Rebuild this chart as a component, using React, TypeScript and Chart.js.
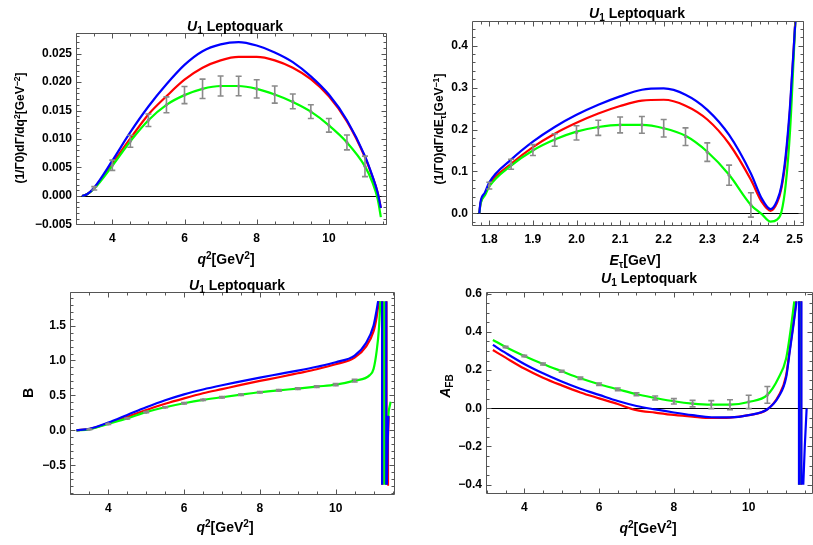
import React, { useEffect, useRef } from 'react';
import { Chart, registerables } from 'chart.js';
Chart.register(...registerables);

// ---------------- Panel 1: (1/Γ0) dΓ/dq² ----------------
const p1X = [3.16, 3.3, 3.5, 4, 4.5, 5, 5.5, 6, 6.5, 7, 7.5, 8, 8.5, 9, 9.5, 10, 10.5, 11, 11.2, 11.35, 11.44];
const p1Blue = [0, 0.0003, 0.0015, 0.0062, 0.0112, 0.0157, 0.0196, 0.0230, 0.0254, 0.0266, 0.0270, 0.0264, 0.0252, 0.0235, 0.0210, 0.0178, 0.0133, 0.0070, 0.0036, 0.0006, -0.0021];
const p1Red = [0, 0.0003, 0.0014, 0.0057, 0.0101, 0.0143, 0.0175, 0.0204, 0.0225, 0.0238, 0.0244, 0.0244, 0.0238, 0.0225, 0.0205, 0.0175, 0.0131, 0.0068, 0.0035, 0.0006, -0.0021];
const p1Green = [0, 0.0003, 0.0013, 0.0053, 0.0096, 0.0133, 0.0160, 0.0177, 0.0188, 0.0193, 0.0193, 0.0188, 0.0178, 0.0165, 0.0148, 0.0124, 0.0094, 0.0052, 0.0025, -0.0005, -0.0037];
const p1ErrX = [3.5, 4, 4.5, 5, 5.5, 6, 6.5, 7, 7.5, 8, 8.5, 9, 9.5, 10, 10.5, 11];
const p1ErrY = [0.00135, 0.0054, 0.0096, 0.0133, 0.0160, 0.0177, 0.0188, 0.0193, 0.0193, 0.0188, 0.0178, 0.0166, 0.0148, 0.0124, 0.0094, 0.0052];
const p1ErrE = [0.0003, 0.0009, 0.00105, 0.0011, 0.0014, 0.0015, 0.0017, 0.00175, 0.0017, 0.0016, 0.0015, 0.0013, 0.0012, 0.0012, 0.0013, 0.0018];
const p1XTicks = [4, 6, 8, 10];
const p1XLabels = ['4', '6', '8', '10'];
const p1YTicks = [-0.005, 0, 0.005, 0.01, 0.015, 0.02, 0.025];
const p1YLabels = ['\u22120.005', '0.000', '0.005', '0.010', '0.015', '0.020', '0.025'];

// ---------------- Panel 2: (1/Γ0) dΓ/dEτ ----------------
const p2X = [1.777, 1.78, 1.79, 1.8, 1.85, 1.9, 1.95, 2.0, 2.05, 2.1, 2.15, 2.2, 2.25, 2.3, 2.35, 2.4, 2.425, 2.445, 2.46, 2.47, 2.48, 2.49, 2.502];
const p2Blue = [0, 0.028, 0.05, 0.074, 0.128, 0.171, 0.206, 0.235, 0.259, 0.279, 0.295, 0.298, 0.283, 0.247, 0.187, 0.095, 0.035, 0.010, 0.03, 0.065, 0.14, 0.26, 0.46];
const p2Red = [0, 0.025, 0.046, 0.069, 0.118, 0.158, 0.19, 0.216, 0.238, 0.256, 0.269, 0.271, 0.257, 0.224, 0.166, 0.08, 0.027, 0.006, 0.025, 0.06, 0.13, 0.25, 0.46];
const p2Green = [0, 0.023, 0.043, 0.064, 0.114, 0.150, 0.176, 0.195, 0.206, 0.211, 0.211, 0.203, 0.185, 0.147, 0.092, 0.02, -0.002, -0.02, -0.015, 0.003, 0.07, 0.2, 0.46];
const p2ErrX = [1.8, 1.85, 1.9, 1.95, 2.0, 2.05, 2.1, 2.15, 2.2, 2.25, 2.3, 2.35, 2.4];
const p2ErrY = [0.066, 0.117, 0.151, 0.175, 0.192, 0.204, 0.211, 0.211, 0.203, 0.183, 0.146, 0.091, 0.02];
const p2ErrE = [0.008, 0.012, 0.013, 0.015, 0.017, 0.018, 0.019, 0.02, 0.021, 0.021, 0.022, 0.024, 0.029];
const p2XTicks = [1.8, 1.9, 2.0, 2.1, 2.2, 2.3, 2.4, 2.5];
const p2XLabels = ['1.8', '1.9', '2.0', '2.1', '2.2', '2.3', '2.4', '2.5'];
const p2YTicks = [0, 0.1, 0.2, 0.3, 0.4];
const p2YLabels = ['0.0', '0.1', '0.2', '0.3', '0.4'];

// ---------------- Panel 3: B ----------------
const p3BlueX = [3.16, 3.5, 4, 4.5, 5, 5.5, 6, 6.5, 7, 7.5, 8, 8.5, 9, 9.5, 10, 10.5, 10.8, 11.0, 11.08, 11.12];
const p3BlueY = [0, 0.02, 0.11, 0.22, 0.33, 0.43, 0.515, 0.585, 0.645, 0.70, 0.755, 0.805, 0.855, 0.91, 0.975, 1.07, 1.25, 1.5, 1.72, 1.85];
const p3RedX = [3.16, 3.5, 4, 4.5, 5, 5.5, 6, 6.5, 7, 7.5, 8, 8.5, 9, 9.5, 10, 10.5, 10.8, 11.0, 11.08, 11.14];
const p3RedY = [0, 0.018, 0.10, 0.195, 0.29, 0.38, 0.458, 0.53, 0.59, 0.65, 0.707, 0.76, 0.817, 0.875, 0.946, 1.04, 1.2, 1.42, 1.62, 1.85];
const p3GreenX = [3.16, 3.5, 4, 4.5, 5, 5.5, 6, 6.5, 7, 7.5, 8, 8.5, 9, 9.5, 10, 10.5, 10.9, 11.0, 11.08, 11.14, 11.18];
const p3GreenY = [0, 0.014, 0.091, 0.17, 0.26, 0.33, 0.387, 0.435, 0.473, 0.51, 0.545, 0.573, 0.597, 0.626, 0.654, 0.711, 0.79, 0.88, 1.13, 1.45, 1.85];
const p3BluePoleX = [11.225, 11.225, null, 11.335, 11.335, null, 11.35, 11.37, 11.39];
const p3BluePoleY = [1.85, -0.78, null, -0.78, 1.85, null, -0.78, -0.2, 0.21];
const p3RedPoleX = [11.23, 11.23, null, 11.34, 11.34, null, 11.36, 11.38, 11.4];
const p3RedPoleY = [1.85, -0.78, null, -0.78, 1.85, null, -0.78, -0.1, 0.2];
const p3GreenPoleX = [11.28, 11.28, null, 11.31, 11.33, 11.36, 11.4, 11.45];
const p3GreenPoleY = [1.85, -0.78, null, -0.78, -0.4, 0.0, 0.28, 0.41];
const p3ErrX = [3.5, 4, 4.5, 5, 5.5, 6, 6.5, 7, 7.5, 8, 8.5, 9, 9.5, 10, 10.5];
const p3ErrY = [0.014, 0.091, 0.17, 0.26, 0.33, 0.387, 0.435, 0.473, 0.51, 0.545, 0.573, 0.597, 0.626, 0.654, 0.711];
const p3ErrE = [0.005, 0.006, 0.007, 0.008, 0.008, 0.009, 0.009, 0.01, 0.01, 0.011, 0.012, 0.012, 0.013, 0.015, 0.02];
const p3XTicks = [4, 6, 8, 10];
const p3XLabels = ['4', '6', '8', '10'];
const p3YTicks = [-0.5, 0, 0.5, 1, 1.5];
const p3YLabels = ['\u22120.5', '0.0', '0.5', '1.0', '1.5'];

// ---------------- Panel 4: A_FB ----------------
const p4BlueX = [3.16, 3.5, 4, 4.5, 5, 5.5, 6, 6.5, 7, 7.5, 8, 8.5, 9, 9.5, 10, 10.5, 10.8, 11.0, 11.1, 11.2, 11.28];
const p4BlueY = [0.332, 0.29, 0.232, 0.183, 0.140, 0.102, 0.07, 0.038, 0.012, -0.006, -0.022, -0.036, -0.047, -0.048, -0.036, -0.005, 0.06, 0.16, 0.30, 0.44, 0.56];
const p4RedX = [3.16, 3.5, 4, 4.5, 5, 5.5, 6, 6.5, 7, 7.5, 8, 8.5, 9, 9.5, 10, 10.5, 10.8, 11.0, 11.1, 11.2, 11.27];
const p4RedY = [0.305, 0.265, 0.208, 0.16, 0.12, 0.083, 0.052, 0.022, -0.01, -0.023, -0.035, -0.044, -0.051, -0.049, -0.036, -0.006, 0.065, 0.17, 0.31, 0.45, 0.56];
const p4GreenX = [3.16, 3.5, 4, 4.5, 5, 5.5, 6, 6.5, 7, 7.5, 8, 8.5, 9, 9.5, 10, 10.5, 10.8, 11.0, 11.1, 11.22];
const p4GreenY = [0.358, 0.321, 0.274, 0.232, 0.194, 0.157, 0.126, 0.0995, 0.0733, 0.054, 0.0366, 0.0244, 0.019, 0.019, 0.033, 0.07, 0.16, 0.26, 0.38, 0.56];
const p4BluePoleX = [11.345, 11.345, null, 11.41, 11.41, null, 11.46, 11.5, 11.55];
const p4BluePoleY = [0.56, -0.4, null, -0.4, 0.56, null, -0.4, -0.2, 0.0];
const p4RedPoleX = [11.35, 11.35, null, 11.4, 11.4];
const p4RedPoleY = [0.56, -0.4, null, -0.4, 0.56];
const p4GreenPoleX = [11.36, 11.36];
const p4GreenPoleY = [0.56, -0.4];
const p4ErrX = [3.5, 4, 4.5, 5, 5.5, 6, 6.5, 7, 7.5, 8, 8.5, 9, 9.5, 10, 10.5];
const p4ErrY = [0.321, 0.274, 0.232, 0.194, 0.157, 0.126, 0.0995, 0.0733, 0.054, 0.0366, 0.0244, 0.019, 0.019, 0.033, 0.07];
const p4ErrE = [0.004, 0.004, 0.005, 0.005, 0.006, 0.006, 0.007, 0.008, 0.01, 0.014, 0.017, 0.021, 0.026, 0.035, 0.044];
const p4XTicks = [4, 6, 8, 10];
const p4XLabels = ['4', '6', '8', '10'];
const p4YTicks = [-0.4, -0.2, 0, 0.2, 0.4, 0.6];
const p4YLabels = ['\u22120.4', '\u22120.2', '0.0', '0.2', '0.4', '0.6'];

// ---------------- styling ----------------
const BLUE = '#0000ff';
const RED = '#ff0000';
const GREEN = '#00ff00';
const FONT = '"Liberation Sans", Arial, Helvetica, sans-serif';
const Y_W = 60;
const X_H = 30;
const PAD_T = 14;
const PAD_R = 10;

type Series = { x: (number | null)[]; y: (number | null)[]; color: string; smooth: boolean; order: number };
type PanelCfg = {
  frame: { l: number; r: number; t: number; b: number };
  xMin: number; xMax: number; yMin: number; yMax: number;
  xTicks: number[]; xLabels: string[]; yTicks: number[]; yLabels: string[];
  xMinor: number; yMinor: number;
  series: Series[];
  errX: number[]; errY: number[]; errE: number[];
  zeroLine: boolean;
};

const panels: PanelCfg[] = [
  {
    frame: { l: 76, r: 387, t: 33, b: 225 },
    xMin: 2.994, xMax: 11.61, yMin: -0.00509, yMax: 0.0286,
    xTicks: p1XTicks, xLabels: p1XLabels, yTicks: p1YTicks, yLabels: p1YLabels,
    xMinor: 0.5, yMinor: 0.001,
    series: [
      { x: p1X, y: p1Red, color: RED, smooth: true, order: 3 },
      { x: p1X, y: p1Green, color: GREEN, smooth: true, order: 2 },
      { x: p1X, y: p1Blue, color: BLUE, smooth: true, order: 1 },
    ],
    errX: p1ErrX, errY: p1ErrY, errE: p1ErrE, zeroLine: true,
  },
  {
    frame: { l: 472, r: 804, t: 21, b: 226 },
    xMin: 1.7603, xMax: 2.5218, yMin: -0.0303, yMax: 0.459,
    xTicks: p2XTicks, xLabels: p2XLabels, yTicks: p2YTicks, yLabels: p2YLabels,
    xMinor: 0.02, yMinor: 0.02,
    series: [
      { x: p2X, y: p2Red, color: RED, smooth: true, order: 3 },
      { x: p2X, y: p2Green, color: GREEN, smooth: true, order: 2 },
      { x: p2X, y: p2Blue, color: BLUE, smooth: true, order: 1 },
    ],
    errX: p2ErrX, errY: p2ErrY, errE: p2ErrE, zeroLine: true,
  },
  {
    frame: { l: 70, r: 395, t: 292, b: 495 },
    xMin: 2.9894, xMax: 11.565, yMin: -0.927, yMax: 1.981,
    xTicks: p3XTicks, xLabels: p3XLabels, yTicks: p3YTicks, yLabels: p3YLabels,
    xMinor: 0.5, yMinor: 0.1,
    series: [
      { x: p3RedX, y: p3RedY, color: RED, smooth: true, order: 3 },
      { x: p3RedPoleX, y: p3RedPoleY, color: RED, smooth: false, order: 3 },
      { x: p3GreenX, y: p3GreenY, color: GREEN, smooth: true, order: 2 },
      { x: p3GreenPoleX, y: p3GreenPoleY, color: GREEN, smooth: false, order: 2 },
      { x: p3BlueX, y: p3BlueY, color: BLUE, smooth: true, order: 1 },
      { x: p3BluePoleX, y: p3BluePoleY, color: BLUE, smooth: false, order: 1 },
    ],
    errX: p3ErrX, errY: p3ErrY, errE: p3ErrE, zeroLine: false,
  },
  {
    frame: { l: 486, r: 813, t: 292, b: 494 },
    xMin: 2.976, xMax: 11.72, yMin: -0.449, yMax: 0.609,
    xTicks: p4XTicks, xLabels: p4XLabels, yTicks: p4YTicks, yLabels: p4YLabels,
    xMinor: 0.5, yMinor: 0.05,
    series: [
      { x: p4RedX, y: p4RedY, color: RED, smooth: true, order: 3 },
      { x: p4RedPoleX, y: p4RedPoleY, color: RED, smooth: false, order: 3 },
      { x: p4GreenX, y: p4GreenY, color: GREEN, smooth: true, order: 2 },
      { x: p4GreenPoleX, y: p4GreenPoleY, color: GREEN, smooth: false, order: 2 },
      { x: p4BlueX, y: p4BlueY, color: BLUE, smooth: true, order: 1 },
      { x: p4BluePoleX, y: p4BluePoleY, color: BLUE, smooth: false, order: 1 },
    ],
    errX: p4ErrX, errY: p4ErrY, errE: p4ErrE, zeroLine: true,
  },
];

function minorValues(min: number, max: number, step: number): number[] {
  const out: number[] = [];
  const k0 = Math.ceil(min / step - 1e-9);
  const k1 = Math.floor(max / step + 1e-9);
  for (let k = k0; k <= k1; k++) out.push(k * step);
  return out;
}

function makeFramePlugin(cfg: PanelCfg) {
  return {
    id: 'mmaFrame',
    beforeDatasetsDraw(chart: any) {
      if (!cfg.zeroLine) return;
      const { ctx, chartArea } = chart;
      const y0 = Math.round(chart.scales.y.getPixelForValue(0)) + 0.5;
      ctx.save();
      ctx.strokeStyle = '#000';
      ctx.lineWidth = 1;
      ctx.beginPath();
      ctx.moveTo(chartArea.left, y0);
      ctx.lineTo(chartArea.right, y0);
      ctx.stroke();
      ctx.restore();
    },
    afterDatasetsDraw(chart: any) {
      const { ctx } = chart;
      const xs = chart.scales.x;
      const ys = chart.scales.y;
      ctx.save();
      ctx.strokeStyle = '#8a8a8a';
      ctx.fillStyle = '#8a8a8a';
      ctx.lineWidth = 1.6;
      for (let i = 0; i < cfg.errX.length; i++) {
        const px = xs.getPixelForValue(cfg.errX[i]);
        const pc = ys.getPixelForValue(cfg.errY[i]);
        const p1 = ys.getPixelForValue(cfg.errY[i] - cfg.errE[i]);
        const p2 = ys.getPixelForValue(cfg.errY[i] + cfg.errE[i]);
        ctx.beginPath();
        ctx.moveTo(px, p1);
        ctx.lineTo(px, p2);
        ctx.moveTo(px - 3, p1);
        ctx.lineTo(px + 3, p1);
        ctx.moveTo(px - 3, p2);
        ctx.lineTo(px + 3, p2);
        ctx.stroke();
        ctx.beginPath();
        ctx.arc(px, pc, 1.6, 0, Math.PI * 2);
        ctx.fill();
      }
      ctx.restore();
    },
    afterDraw(chart: any) {
      const { ctx, chartArea } = chart;
      const xs = chart.scales.x;
      const ys = chart.scales.y;
      const L = Math.round(chartArea.left) + 0.5;
      const R = Math.round(chartArea.right) - 0.5;
      const T = Math.round(chartArea.top) + 0.5;
      const B = Math.round(chartArea.bottom) - 0.5;
      ctx.save();
      ctx.strokeStyle = '#555';
      ctx.lineWidth = 1;
      ctx.beginPath();
      ctx.rect(L, T, R - L, B - T);
      ctx.stroke();
      const isMajor = (v: number, majors: number[], step: number) =>
        majors.some((m) => Math.abs(m - v) < step / 10);
      ctx.beginPath();
      for (const v of minorValues(cfg.xMin, cfg.xMax, cfg.xMinor)) {
        const len = isMajor(v, cfg.xTicks, cfg.xMinor) ? 5 : 3;
        const px = Math.round(xs.getPixelForValue(v)) + 0.5;
        ctx.moveTo(px, B);
        ctx.lineTo(px, B - len);
        ctx.moveTo(px, T);
        ctx.lineTo(px, T + len);
      }
      for (const v of minorValues(cfg.yMin, cfg.yMax, cfg.yMinor)) {
        const len = isMajor(v, cfg.yTicks, cfg.yMinor) ? 5 : 3;
        const py = Math.round(ys.getPixelForValue(v)) + 0.5;
        ctx.moveTo(L, py);
        ctx.lineTo(L + len, py);
        ctx.moveTo(R, py);
        ctx.lineTo(R - len, py);
      }
      ctx.stroke();
      ctx.restore();
    },
  };
}

function Panel({ cfg }: { cfg: PanelCfg }) {
  const ref = useRef<HTMLCanvasElement>(null);
  const left = cfg.frame.l - Y_W;
  const top = cfg.frame.t - PAD_T;
  const width = cfg.frame.r - left + PAD_R;
  const height = cfg.frame.b - top + X_H;
  useEffect(() => {
    if (!ref.current) return;
    const tickFont = { family: FONT, size: 12, weight: 'bold' as const };
    const chart = new Chart(ref.current, {
      type: 'scatter',
      data: {
        datasets: cfg.series.map((s) => ({
          data: s.x.map((xv, i) => ({ x: xv as number, y: s.y[i] as number })),
          showLine: true,
          spanGaps: false,
          borderColor: s.color,
          backgroundColor: s.color,
          borderWidth: 2.2,
          pointRadius: 0,
          pointHoverRadius: 0,
          fill: false,
          tension: 0,
          cubicInterpolationMode: s.smooth ? 'monotone' : 'default',
          order: s.order,
        })) as any,
      },
      options: {
        responsive: false,
        animation: false,
        events: [],
        layout: { padding: { top: PAD_T, right: PAD_R, left: 0, bottom: 0 } },
        plugins: { legend: { display: false }, tooltip: { enabled: false }, title: { display: false } },
        scales: {
          x: {
            type: 'linear',
            min: cfg.xMin,
            max: cfg.xMax,
            grid: { display: false, drawTicks: false, tickLength: 0 },
            border: { display: false },
            afterBuildTicks: (a: any) => {
              a.ticks = cfg.xTicks.map((v) => ({ value: v }));
            },
            afterFit: (a: any) => {
              a.height = X_H;
            },
            ticks: {
              autoSkip: false,
              maxRotation: 0,
              minRotation: 0,
              padding: 6,
              color: '#000',
              font: tickFont,
              callback: (_v: any, i: number) => cfg.xLabels[i],
            },
          },
          y: {
            type: 'linear',
            min: cfg.yMin,
            max: cfg.yMax,
            grid: { display: false, drawTicks: false, tickLength: 0 },
            border: { display: false },
            afterBuildTicks: (a: any) => {
              a.ticks = cfg.yTicks.map((v) => ({ value: v }));
            },
            afterFit: (a: any) => {
              a.width = Y_W;
            },
            ticks: {
              autoSkip: false,
              padding: 4,
              color: '#000',
              font: tickFont,
              callback: (_v: any, i: number) => cfg.yLabels[i],
            },
          },
        },
      } as any,
      plugins: [makeFramePlugin(cfg)],
    });
    return () => chart.destroy();
  }, []);
  return (
    <canvas
      ref={ref}
      width={width}
      height={height}
      style={{ position: 'absolute', left, top, width, height }}
    />
  );
}

const sup: React.CSSProperties = { fontSize: '0.72em', verticalAlign: '0.45em', lineHeight: 0 };
const sub: React.CSSProperties = { fontSize: '0.72em', verticalAlign: '-0.3em', lineHeight: 0 };

function Label({ x, y, size, rotate, children }: { x: number; y: number; size: number; rotate?: boolean; children: React.ReactNode }) {
  return (
    <div
      style={{
        position: 'absolute',
        left: x,
        top: y,
        transform: `translate(-50%, -50%)${rotate ? ' rotate(-90deg)' : ''}`,
        whiteSpace: 'nowrap',
        fontFamily: FONT,
        fontWeight: 'bold',
        fontSize: size,
        lineHeight: 1,
        color: '#000',
        zIndex: 2,
      }}
    >
      {children}
    </div>
  );
}

function Title({ x, y }: { x: number; y: number }) {
  return (
    <Label x={x} y={y} size={14}>
      <i>U</i>
      <span style={sub}>1</span> Leptoquark
    </Label>
  );
}

export default function App() {
  return (
    <div style={{ position: 'absolute', left: 0, top: 0, width: 813, height: 545, overflow: 'hidden', background: '#fff' }}>
      {panels.map((p, i) => (
        <Panel key={i} cfg={p} />
      ))}
      <Title x={235} y={26} />
      <Title x={637} y={13} />
      <Title x={237} y={285} />
      <Title x={649} y={278} />
      <Label x={226} y={259} size={14}>
        <i>q</i>
        <span style={sup}>2</span>[GeV<span style={sup}>2</span>]
      </Label>
      <Label x={635} y={260} size={14}>
        <i>E</i>
        <span style={sub}>τ</span>[GeV]
      </Label>
      <Label x={225} y={527} size={14}>
        <i>q</i>
        <span style={sup}>2</span>[GeV<span style={sup}>2</span>]
      </Label>
      <Label x={648} y={528} size={14}>
        <i>q</i>
        <span style={sup}>2</span>[GeV<span style={sup}>2</span>]
      </Label>
      <Label x={20} y={128} size={12} rotate>
        (1/Γ0)dΓ/dq<span style={sup}>2</span>[GeV<span style={sup}>−2</span>]
      </Label>
      <Label x={439} y={129} size={12} rotate>
        (1/Γ0)dΓ/dE<span style={sub}>τ</span>[GeV<span style={sup}>−1</span>]
      </Label>
      <Label x={28} y={393} size={14} rotate>
        B
      </Label>
      <Label x={445} y={386} size={14} rotate>
        <i>A</i>
        <span style={sub}>FB</span>
      </Label>
    </div>
  );
}
